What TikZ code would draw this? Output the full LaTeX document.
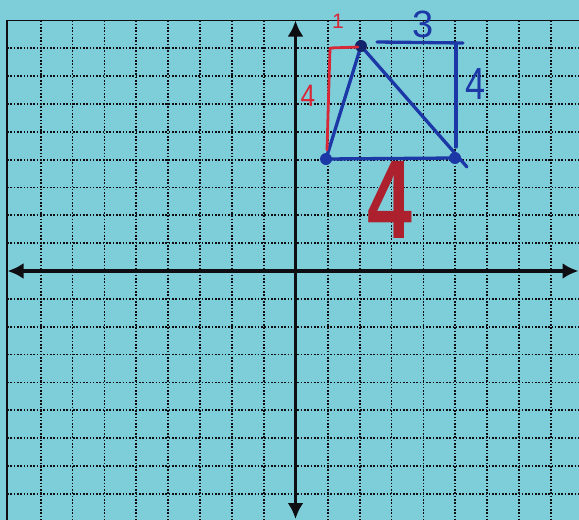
\documentclass[tikz,border=0pt]{standalone}
\usepackage{fontspec}
\setmainfont{Liberation Sans}
\usetikzlibrary{arrows.meta}
\definecolor{paper}{RGB}{126,206,218}
\definecolor{ink}{RGB}{14,14,18}
\definecolor{bpen}{RGB}{28,56,166}
\definecolor{rpen}{RGB}{216,40,56}
\begin{document}
\begin{tikzpicture}[x=1pt,y=-1pt,
  gridline/.style={ink, line width=1.8pt, dash pattern=on 1.6pt off 1.7pt},
  frameline/.style={ink, line width=1.4pt},
  axisline/.style={ink, line width=3.2pt, {Latex[length=16pt,width=16pt]}-{Latex[length=16pt,width=16pt]}},
  bluepen/.style={bpen, line width=3.3pt, line cap=round, line join=round},
  redpen/.style={rpen, line width=2.8pt, line cap=round, line join=round},
  vdot/.style={bpen},
  hand/.style={inner sep=0pt, outer sep=0pt}]
\fill[paper] (0,0) rectangle (579,520);
\useasboundingbox (0,0) rectangle (579,520);
% dotted grid
\foreach \i in {-8,...,-1,1,2,...,8}
  \draw[gridline] ({295.8+31.9*\i},20.5) -- ({295.8+31.9*\i},520);
\foreach \j in {-8,...,-1,1,2,...,8}
  \draw[gridline] (7,{271-27.85*\j}) -- (579,{271-27.85*\j});
% frame
\coordinate (fb) at (7,520);
\coordinate (ftl) at (7,20.5);
\coordinate (ftr) at (579,20.5);
\draw[frameline] (fb) -- (ftl) -- (ftr);
% axes
\coordinate (yt) at (295.5,20.5);
\coordinate (yb) at (295.5,519);
\coordinate (xl) at (7.5,271);
\coordinate (xr) at (578.5,271);
\draw[axisline] (yt) -- (yb);
\draw[axisline] (xl) -- (xr);
% triangle
\coordinate (A) at (326,159);
\coordinate (B) at (455,158);
\coordinate (C) at (361,46);
\coordinate (Cend) at (467,167);
\coordinate (Ta) at (377,42);
\coordinate (Tb) at (463,43);
\coordinate (Ra) at (456,43);
\coordinate (Rb) at (456,147);
\draw[bluepen] (A) -- (C) -- (Cend);
\draw[bluepen] (A) -- (B);
\draw[bluepen] (Ta) -- (Tb);
\draw[bluepen] (Ra) -- (Rb);
\fill[vdot] (A) circle (6);
\fill[vdot] (B) circle (6);
\fill[bpen!65!black] (C) circle (6);
% red run/rise
\coordinate (Pa) at (327,150);
\coordinate (Pb) at (330,48);
\coordinate (Pc) at (358,47);
\draw[redpen] (Pa) -- (Pb) -- (Pc);
% labels
\node[hand, text=rpen, font=\fontsize{21}{21}\selectfont] (one) at (338,21.5) {1};
\node[hand, text=rpen, font=\fontsize{31}{31}\selectfont, xscale=0.85] (rise) at (308,96) {4};
\node[hand, text=bpen, font=\fontsize{38}{38}\selectfont] (three) at (423,24) {3};
\node[hand, text=bpen, font=\fontsize{45}{45}\selectfont, xscale=0.8] (four) at (476,84) {4};
\node[hand, text=rpen!80!black, font=\bfseries\fontsize{112}{112}\selectfont, xscale=0.72] (big) at (390,200) {4};
\end{tikzpicture}
\end{document}
